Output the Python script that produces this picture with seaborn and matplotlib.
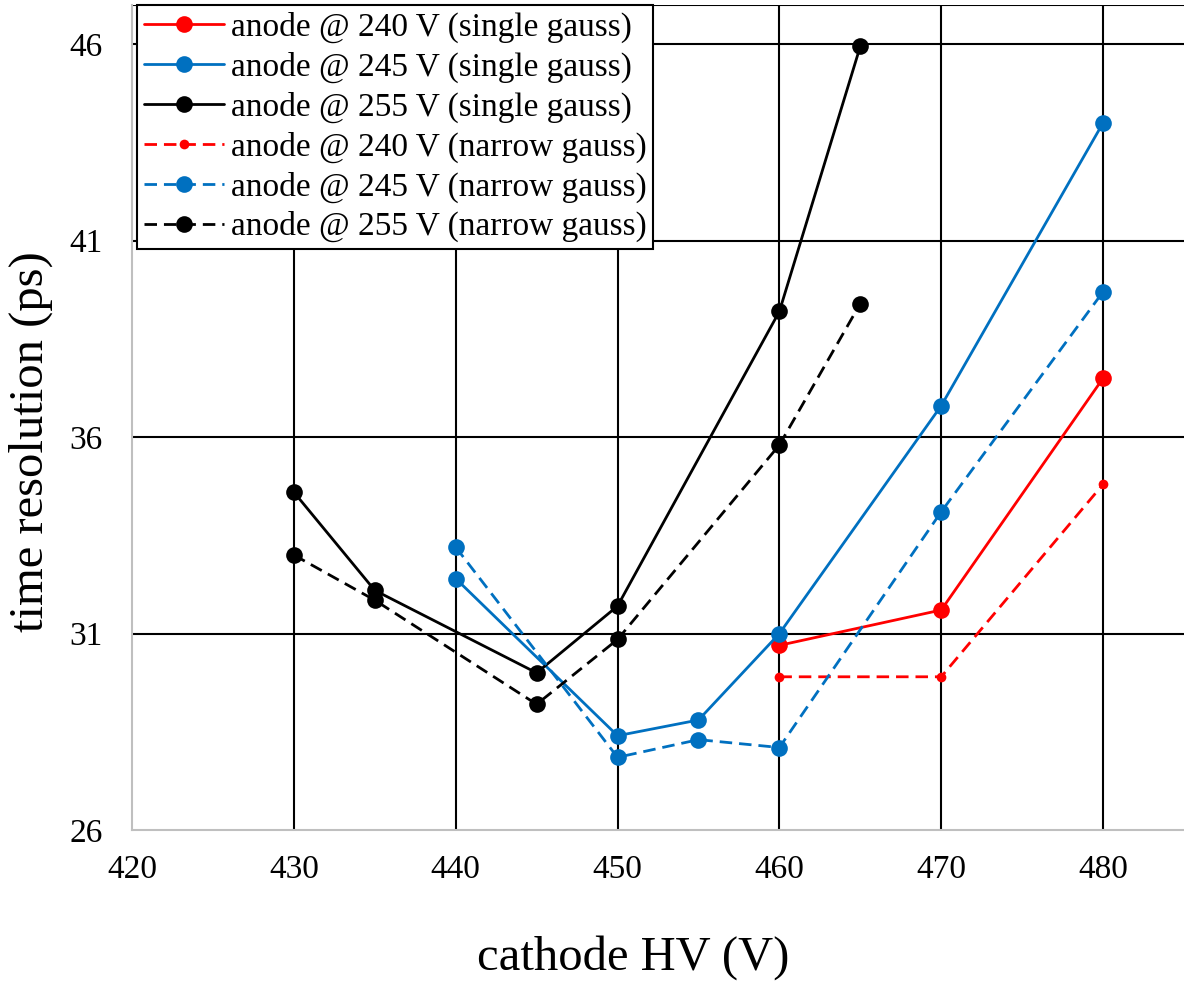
import matplotlib
matplotlib.use("Agg")
import matplotlib.pyplot as plt
import seaborn as sns
import pandas as pd

sns.set_style("white")
plt.rcParams['font.family'] = ['Liberation Serif', 'DejaVu Serif']
plt.rcParams['text.color'] = 'black'
plt.rcParams['axes.labelcolor'] = 'black'
plt.rcParams['xtick.color'] = 'black'
plt.rcParams['ytick.color'] = 'black'

# Data (cathode HV in V, time resolution in ps)
hv_240 = [460, 470, 480]
single_240 = [30.7, 31.6, 37.5]
narrow_240 = [29.9, 29.9, 34.8]

hv_245 = [440, 450, 455, 460, 470, 480]
single_245 = [32.4, 28.4, 28.8, 31.0, 36.8, 44.0]
narrow_245 = [33.2, 27.85, 28.3, 28.1, 34.1, 39.7]

hv_255 = [430, 435, 445, 450, 460, 465]
single_255 = [34.6, 32.1, 30.0, 31.7, 39.2, 45.95]
narrow_255 = [33.0, 31.85, 29.2, 30.85, 35.8, 39.4]

labels = [
    "anode @ 240 V (single gauss)",
    "anode @ 245 V (single gauss)",
    "anode @ 255 V (single gauss)",
    "anode @ 240 V (narrow gauss)",
    "anode @ 245 V (narrow gauss)",
    "anode @ 255 V (narrow gauss)",
]
xticks = [420, 430, 440, 450, 460, 470, 480]
yticks = [26, 31, 36, 41, 46]

RED = "#FF0000"
BLUE = "#0070C0"
BLACK = "#000000"

series = [
    (hv_240, single_240, RED, "-", 12),
    (hv_245, single_245, BLUE, "-", 12),
    (hv_255, single_255, BLACK, "-", 12),
    (hv_240, narrow_240, RED, "--", 7),
    (hv_245, narrow_245, BLUE, "--", 12),
    (hv_255, narrow_255, BLACK, "--", 12),
]

fig = plt.figure(figsize=(11.84, 9.9), dpi=100)
ax = fig.add_axes([132 / 1184, 1 - 830 / 990, 1 - 132 / 1184, (830 - 5) / 990])

for (xs, ys, col, ls, ms), lab in zip(series, labels):
    df = pd.DataFrame({"x": xs, "y": ys})
    sns.lineplot(data=df, x="x", y="y", ax=ax, color=col,
                 marker="o", markersize=ms, markeredgewidth=0, linewidth=2.0,
                 sort=False, estimator=None, label=lab)

for line, (xs, ys, col, ls, ms) in zip(ax.get_lines(), series):
    if ls == "--":
        line.set_dashes((4.5, 2.5))

ax.set_xlim(420, 485)
ax.set_ylim(26, 47)
ax.set_xticks(xticks)
ax.set_yticks(yticks)
ax.tick_params(axis="x", labelsize=24, length=0, pad=18)
ax.tick_params(axis="y", labelsize=24, length=0, pad=21)

for v in xticks[1:]:
    ax.axvline(v, color="black", lw=1.5, zorder=0)
for v in yticks[1:] + [47]:
    ax.axhline(v, color="black", lw=1.5, zorder=0)

for s in ["left", "bottom"]:
    ax.spines[s].set_color("#BFBFBF")
    ax.spines[s].set_linewidth(1.5)
ax.spines["top"].set_visible(False)
ax.spines["right"].set_visible(False)

ax.set_xlabel("cathode HV (V)", fontsize=35)
ax.xaxis.set_label_coords(0.476, -0.128)
ax.set_ylabel("time resolution (ps)", fontsize=35)
ax.yaxis.set_label_coords(-0.075, 0.471)

leg = ax.legend(loc="upper left", bbox_to_anchor=(0.005, 1.0), fontsize=24,
                frameon=True, fancybox=False, edgecolor="black",
                handlelength=2.4, handletextpad=0.2, labelspacing=0.26,
                borderpad=0.2, borderaxespad=0)
leg.get_frame().set_linewidth(1.5)
leg.get_frame().set_alpha(1)

fig.savefig("out.png", dpi=100)
